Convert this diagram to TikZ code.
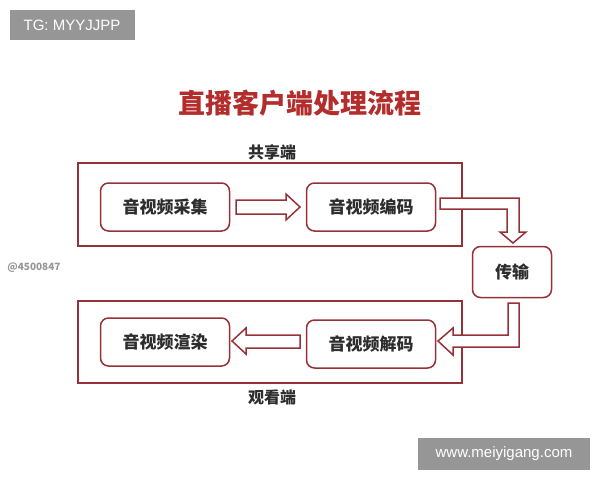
\documentclass[tikz,border=0pt]{standalone}
\usepackage{fontspec}
\setmainfont{Noto Sans CJK SC}
\newfontfamily\marksans{Liberation Sans}
\usepackage{xcolor}
\definecolor{streamred}{RGB}{150,50,55}
\definecolor{titlered}{RGB}{180,45,45}
\definecolor{boxtext}{RGB}{45,45,45}
\definecolor{markgray}{RGB}{150,150,150}

\begin{document}
\begin{tikzpicture}[x=1pt,y=-1pt,
    stage/.style={draw=streamred, line width=1.5pt, rounded corners=8pt, fill=white,
        minimum width=129pt, minimum height=48pt, font=\bfseries\fontsize{17}{20}\selectfont, text=boxtext},
    frame/.style={draw=streamred, line width=1.5pt},
    hollow/.style={draw=streamred, line width=1.5pt, fill=white, line join=miter},
    wmark/.style={fill=markgray, text=white, font=\marksans\fontsize{15}{17}\selectfont}]
    \useasboundingbox (0,0) rectangle (600,480);

    % Watermarks
    \node[wmark, minimum width=125pt, minimum height=30pt] (tg) at (72,25) {TG: MYYJJPP};
    \node[wmark, minimum width=172pt, minimum height=32pt] (site) at (504,454) {www.meiyigang.com};
    \node[text=markgray, font=\bfseries\fontsize{10}{11}\selectfont] (id) at (34,268) {@4500847};

    % Title
    \node[text=titlered, font=\bfseries\fontsize{27}{30}\selectfont] (title) at (300,103) {直播客户端处理流程};

    % Share side
    \draw[frame] (78,163) rectangle (462,246);
    \node[font=\bfseries\fontsize{16}{18}\selectfont, text=boxtext] (share) at (272,152) {共享端};
    \node[stage] (capture) at (165,207) {音视频采集};
    \node[stage] (encode) at (371,207) {音视频编码};

    % Transport
    \node[stage, minimum width=79pt, minimum height=51pt] (trans) at (512,272) {传输};

    % Viewer side
    \draw[frame] (78,301) rectangle (462,383);
    \node[font=\bfseries\fontsize{16}{18}\selectfont, text=boxtext] (view) at (272,397) {观看端};
    \node[stage] (render) at (165,342) {音视频渲染};
    \node[stage] (decode) at (371,344) {音视频解码};

    % Block arrows
    \draw[hollow] (236,200) -- (286,200) -- (286,194) -- (300,207) -- (286,220)
        -- (286,214) -- (236,214) -- cycle;
    \draw[hollow] (440,198) -- (519,198) -- (519,232) -- (526,232) -- (513,243)
        -- (500,232) -- (507,232) -- (507,209) -- (440,209) -- cycle;
    \draw[hollow] (508,303) -- (519,303) -- (519,347) -- (453,347) -- (453,355)
        -- (438,341) -- (453,328) -- (453,335) -- (508,335) -- cycle;
    \draw[hollow] (300,335) -- (246,335) -- (246,328) -- (232,341) -- (246,354)
        -- (246,348) -- (300,348) -- cycle;
\end{tikzpicture}
\end{document}
